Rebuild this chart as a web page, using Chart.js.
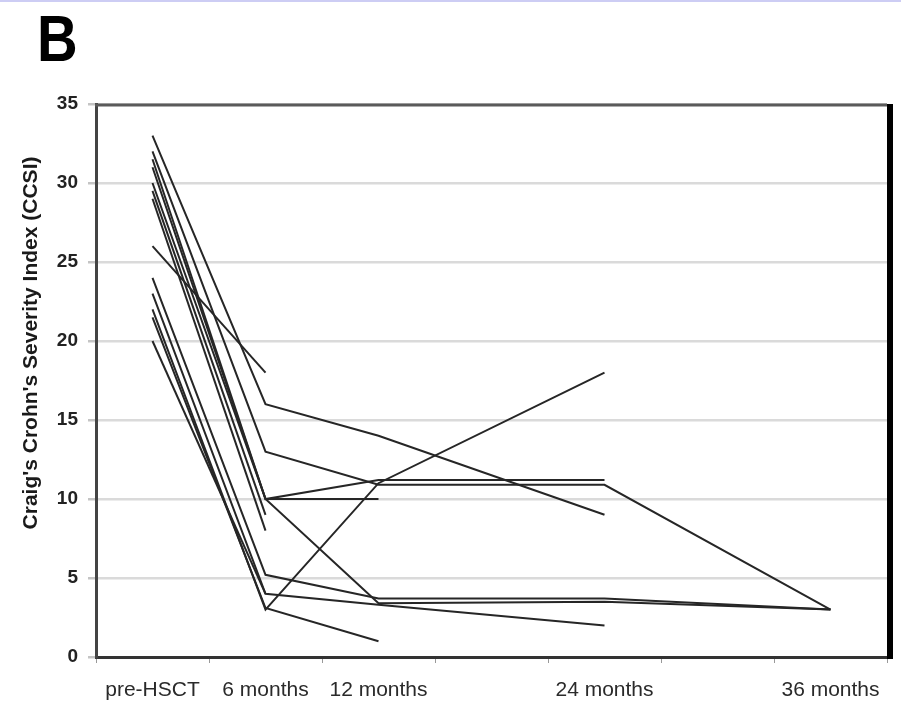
<!DOCTYPE html>
<html>
<head>
<meta charset="utf-8">
<script src="https://cdn.jsdelivr.net/npm/chart.js@4/dist/chart.umd.min.js"></script>
<style>
  html, body { margin: 0; padding: 0; background: #fff; }
  #wrap { position: relative; width: 901px; height: 709px; }
</style>
</head>
<body>
<div id="wrap"><canvas id="c" width="901" height="709"></canvas></div>
<script>
// Categories (slots on the x axis; blank slots are 18 and 30 months)
const categories = ['pre-HSCT', '6 months', '12 months', '', '24 months', '', '36 months'];
const yTickValues = [0, 5, 10, 15, 20, 25, 30, 35];
const yTitle = "Craig's Crohn's Severity Index (CCSI)";
const panelLabel = 'B';

// One array per patient (CCSI at each time point; null = not measured)
const patient01 = [33,   16,  14,   null, 9,    null, null];
const patient02 = [32,   13,  10.9, null, 10.9, null, 3];
const patient03 = [31.5, 10,  10,   null, null, null, null];
const patient04 = [31,   10,  11.2, null, 11.2, null, null];
const patient05 = [30,   10,  3.4,  null, 3.5,  null, 3];
const patient06 = [29.5, 9,   null, null, null, null, null];
const patient07 = [29,   8,   null, null, null, null, null];
const patient08 = [26,   18,  null, null, null, null, null];
const patient09 = [24,   5.2, 3.7,  null, 3.7,  null, 3];
const patient10 = [23,   4,   3.3,  null, 2,    null, null];
const patient11 = [22,   3,   11,   null, 18,   null, null];
const patient12 = [21.5, 3.1, 1,    null, null, null, null];
const patient13 = [20,   4,   null, null, null, null, null];

const patients = [patient01, patient02, patient03, patient04, patient05, patient06, patient07,
                  patient08, patient09, patient10, patient11, patient12, patient13];

const framePlugin = {
  id: 'frame',
  beforeDraw(chart) {
    const ctx = chart.ctx;
    ctx.save();
    ctx.fillStyle = '#ffffff';
    ctx.fillRect(0, 0, chart.width, chart.height);
    ctx.fillStyle = '#cdcdf4';
    ctx.fillRect(0, 0, chart.width, 2);
    ctx.restore();
  },
  afterDraw(chart) {
    const ctx = chart.ctx;
    const a = chart.chartArea;
    ctx.save();
    // top border
    ctx.strokeStyle = '#5a5a5a';
    ctx.lineWidth = 3;
    ctx.beginPath();
    ctx.moveTo(a.left - 1, a.top + 1);
    ctx.lineTo(a.right, a.top + 1);
    ctx.stroke();
    // right border (thick black)
    ctx.strokeStyle = '#000';
    ctx.lineWidth = 6;
    ctx.beginPath();
    ctx.moveTo(a.right + 3, a.top);
    ctx.lineTo(a.right + 3, a.bottom + 2);
    ctx.stroke();
    // y title
    ctx.fillStyle = '#1a1a1a';
    ctx.font = 'bold 21px "Liberation Sans", Arial, sans-serif';
    ctx.textAlign = 'center';
    ctx.textBaseline = 'middle';
    ctx.translate(31, 343);
    ctx.rotate(-Math.PI / 2);
    ctx.fillText(yTitle, 0, 0);
    ctx.restore();
    // panel letter
    ctx.save();
    ctx.fillStyle = '#000';
    ctx.font = 'bold 64px "Liberation Sans", Arial, sans-serif';
    ctx.textAlign = 'left';
    ctx.textBaseline = 'alphabetic';
    ctx.translate(37, 61);
    ctx.scale(0.88, 1);
    ctx.fillText(panelLabel, 0, 0);
    ctx.restore();
  }
};

new Chart(document.getElementById('c'), {
  type: 'line',
  data: {
    labels: categories,
    datasets: patients.map((p, i) => ({
      label: 'Patient ' + (i + 1),
      data: p,
      borderColor: '#262626',
      borderWidth: 2,
      pointRadius: 0,
      pointHoverRadius: 0,
      tension: 0,
      spanGaps: true,
      fill: false
    }))
  },
  options: {
    responsive: false,
    animation: false,
    events: [],
    layout: { padding: { left: 0, top: 104, right: 14, bottom: 0 } },
    plugins: { legend: { display: false }, tooltip: { enabled: false }, title: { display: false } },
    scales: {
      x: {
        type: 'category',
        offset: true,
        afterFit(scale) { scale.height = 52; },
        grid: { offset: true, drawOnChartArea: false, drawTicks: true, tickLength: 6, tickColor: '#999' },
        border: { display: true, color: '#333', width: 3 },
        ticks: {
          autoSkip: false, maxRotation: 0, minRotation: 0, padding: 15,
          color: '#2a2a2a',
          font: { family: '"Liberation Sans", Arial, sans-serif', size: 21 }
        }
      },
      y: {
        min: 0, max: 35,
        afterFit(scale) { scale.width = 96; },
        afterBuildTicks(scale) { scale.ticks = yTickValues.map(v => ({ value: v })); },
        grid: { color: '#dadada', lineWidth: 2.5, tickLength: 8, tickColor: '#c4c4c4' },
        border: { display: true, color: '#444', width: 3 },
        ticks: {
          padding: 10,
          color: '#222',
          font: { family: '"Liberation Sans", Arial, sans-serif', size: 19, weight: 'bold' }
        }
      }
    }
  },
  plugins: [framePlugin]
});
</script>
</body>
</html>
